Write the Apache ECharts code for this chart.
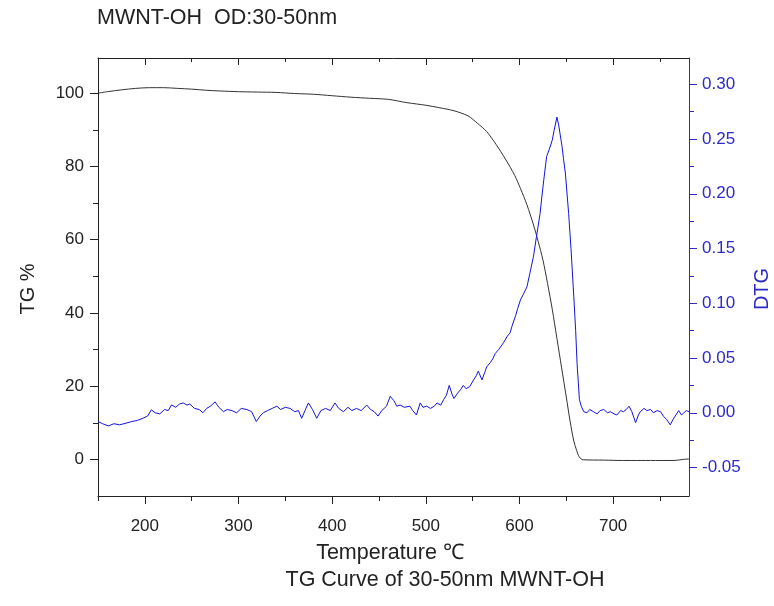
<!DOCTYPE html>
<html>
<head>
<meta charset="utf-8">
<script src="https://cdn.jsdelivr.net/npm/echarts@6/dist/echarts.min.js"></script>
<style>html,body{margin:0;padding:0;background:#fff}#chart{width:774px;height:606px}</style>
</head>
<body>
<div id="chart"></div>
<script>
// ---- data ----
var tgTemp = [150,160,175,190,205,220,235,250,265,280,300,320,340,360,380,400,420,440,460,480,500,515,530,545,555,565,575,585,595,601,608,615,620,625,630,635,640,645,650,654,658,661,664,668,690,710,730,750,765,775,781];
var tgValue = [100.0,100.4,100.9,101.3,101.5,101.5,101.3,101.1,100.8,100.6,100.4,100.3,100.2,99.9,99.7,99.3,98.9,98.6,98.3,97.4,96.7,96.0,95.2,93.8,91.8,89.5,86.0,82.0,77.5,74.0,69.5,64.0,59.5,54.5,48.0,41.0,33.0,25.0,17.0,10.5,5.0,2.5,0.6,-0.1,-0.2,-0.3,-0.3,-0.3,-0.3,0.0,0.1];

var dtgTemp = [150,155,161,167,173,180,186,192,198,203,207,211,216,221,225,228.5,233,237,241,245,248,253,258,262,266,270,275,279,284,288,293,298,303,309,314,319,323,326.5,331,336,341,345,350,355,360,364,367.5,371,374.6,379,383.5,388,393,398,403,407,412,417,421,426,431,437,441,445,449,453,458,462,466,469,472.6,477,483,486,490,494,497,501,505,509,512,516,519,522,525,528,530,534,537,540,543,547,551,554,556,560,563,565,569,572,574,578,583,587,590,592,596,598,601,604,608,611,615,618,622,624,626,629,632,635,637,640,642,645.5,647,649,652.5,655,658,660,661.5,664,666,668.6,672,675,679,683,686,690,694,697,701,704,708,711,714,717,720,722,724,727,729,733,736,740,743,747,750.6,754,757,761,764,767,770,773,775.5,778,781];
var dtgValue = [-0.008,-0.010,-0.012,-0.010,-0.011,-0.0095,-0.008,-0.007,-0.005,-0.003,0.0027,0.000,-0.001,0.003,0.002,0.0072,0.005,0.008,0.009,0.007,0.008,0.004,0.003,0.000,0.004,0.006,0.010,0.005,0.001,0.003,0.002,0.000,0.004,0.003,0.001,-0.008,-0.003,0.000,0.002,0.004,0.006,0.003,0.005,0.004,0.001,0.002,-0.005,0.002,0.009,0.003,-0.005,0.002,0.004,0.002,0.009,0.004,0.001,0.005,0.002,0.004,0.002,0.007,0.003,0.001,-0.003,0.002,0.006,0.015,0.011,0.006,0.007,0.005,0.006,0.002,-0.002,0.009,0.005,0.006,0.004,0.006,0.009,0.007,0.012,0.016,0.025,0.017,0.013,0.018,0.021,0.025,0.022,0.024,0.030,0.034,0.038,0.030,0.037,0.042,0.046,0.050,0.054,0.058,0.064,0.070,0.073,0.079,0.089,0.095,0.103,0.108,0.115,0.127,0.143,0.160,0.182,0.198,0.213,0.234,0.241,0.249,0.258,0.270,0.262,0.243,0.232,0.219,0.182,0.150,0.106,0.075,0.045,0.012,0.006,0.001,0.000,0.003,0.001,-0.001,0.002,0.003,0.000,0.001,-0.001,-0.002,0.002,0.001,0.003,0.006,0.001,0.000,-0.009,-0.002,0.001,0.004,0.002,0.003,0.000,0.002,0.001,-0.0035,-0.006,-0.011,-0.006,-0.002,0.002,-0.002,0.000,0.002,0.001];

var xMajorTicks = [200,300,400,500,600,700];
var xMinorTicks = [150,250,350,450,550,650,750];
var tgMajorTicks = [0,20,40,60,80,100];
var tgMinorTicks = [10,30,50,70,90];
var dtgMajorTicks = [-0.05,0,0.05,0.10,0.15,0.20,0.25,0.30];
var dtgMinorTicks = [-0.025,0.025,0.075,0.125,0.175,0.225,0.275];

var titleText = 'MWNT-OH  OD:30-50nm';
var xName = 'Temperature \u2103';
var captionText = 'TG Curve of 30-50nm MWNT-OH';
var tgName = 'TG %';
var dtgName = 'DTG';

// ---- chart ----
var FONT = 'Liberation Sans, Arial, sans-serif';
var BLACK = '#222222';
var BLUE = '#2b2bc8';
var X_MIN = 150, X_MAX = 781;
var TG_MIN = -10, TG_MAX = 109.6;
var DTG_MIN = -0.076, DTG_MAX = 0.324;

function zip(a, b) { return a.map(function (v, i) { return [v, b[i]]; }); }

function merge(base, extra) {
  var o = {};
  for (var k in base) o[k] = base[k];
  for (var k2 in extra) o[k2] = extra[k2];
  return o;
}

var chart = echarts.init(document.getElementById('chart'), null, {renderer: 'canvas'});
var grid = {left: 98, right: 85, top: 58, bottom: 110, containLabel: false};

var xBase = {type: 'value', min: X_MIN, max: X_MAX, splitLine: {show: false}};
var tgBase = {type: 'value', position: 'left', min: TG_MIN, max: TG_MAX, splitLine: {show: false}};
var dtgBase = {type: 'value', position: 'right', min: DTG_MIN, max: DTG_MAX, splitLine: {show: false}};
var noLine = {show: false, onZero: false};
function axisLine(color) { return {show: true, onZero: false, lineStyle: {color: color, width: 1}}; }

var option = {
  animation: false,
  backgroundColor: '#ffffff',
  grid: grid,
  graphic: [
    {type: 'text', left: 97, top: 7, style: {text: titleText, font: '21.5px ' + FONT, fill: BLACK}},
    {type: 'text', x: 390, y: 553, style: {text: xName, font: '21.5px ' + FONT, fill: BLACK, align: 'center', verticalAlign: 'middle'}},
    {type: 'text', x: 445, y: 580, style: {text: captionText, font: '21.5px ' + FONT, fill: BLACK, align: 'center', verticalAlign: 'middle'}},
    {type: 'text', x: 28, y: 289, rotation: Math.PI / 2, style: {text: tgName, font: '20px ' + FONT, fill: BLACK, align: 'center', verticalAlign: 'middle'}},
    {type: 'text', x: 762, y: 289, rotation: Math.PI / 2, style: {text: dtgName, font: '20px ' + FONT, fill: BLUE, align: 'center', verticalAlign: 'middle'}}
  ],
  xAxis: [
    merge(xBase, {position: 'bottom', axisLine: axisLine(BLACK),
      axisTick: {show: true, inside: false, length: 8, customValues: xMajorTicks, lineStyle: {color: BLACK}},
      axisLabel: {show: true, customValues: xMajorTicks, margin: 22, fontSize: 17, fontFamily: FONT, color: BLACK}}),
    merge(xBase, {position: 'bottom', axisLine: noLine,
      axisTick: {show: true, inside: false, length: 5, customValues: xMinorTicks, lineStyle: {color: BLACK}},
      axisLabel: {show: false}}),
    merge(xBase, {position: 'top', axisLine: axisLine(BLACK),
      axisTick: {show: true, inside: true, length: 7, customValues: xMajorTicks, lineStyle: {color: BLACK}},
      axisLabel: {show: false}}),
    merge(xBase, {position: 'top', axisLine: noLine,
      axisTick: {show: true, inside: true, length: 4, customValues: xMinorTicks, lineStyle: {color: BLACK}},
      axisLabel: {show: false}})
  ],
  yAxis: [
    merge(tgBase, {axisLine: axisLine(BLACK),
      axisTick: {show: true, inside: false, length: 8, customValues: tgMajorTicks, lineStyle: {color: BLACK}},
      axisLabel: {show: true, customValues: tgMajorTicks, margin: 14, fontSize: 17, fontFamily: FONT, color: BLACK}}),
    merge(tgBase, {axisLine: noLine,
      axisTick: {show: true, inside: false, length: 5, customValues: tgMinorTicks, lineStyle: {color: BLACK}},
      axisLabel: {show: false}}),
    merge(dtgBase, {axisLine: axisLine(BLUE),
      axisTick: {show: true, inside: false, length: 8, customValues: dtgMajorTicks, lineStyle: {color: BLUE}},
      axisLabel: {show: true, customValues: dtgMajorTicks, margin: 13, fontSize: 17, fontFamily: FONT, color: BLUE,
        formatter: function (v) { return (Math.abs(v) < 1e-9 ? 0 : v).toFixed(2); }}}),
    merge(dtgBase, {axisLine: noLine,
      axisTick: {show: true, inside: false, length: 5, customValues: dtgMinorTicks, lineStyle: {color: BLUE}},
      axisLabel: {show: false}})
  ],
  series: [
    {name: 'TG', type: 'line', xAxisIndex: 0, yAxisIndex: 0, data: zip(tgTemp, tgValue),
      showSymbol: false, smooth: 0.3, lineStyle: {color: '#333333', width: 1}, itemStyle: {color: '#333333'}},
    {name: 'DTG', type: 'line', xAxisIndex: 0, yAxisIndex: 2, data: zip(dtgTemp, dtgValue),
      showSymbol: false, lineStyle: {color: '#1414dc', width: 1}, itemStyle: {color: '#1414dc'}}
  ]
};
chart.setOption(option);
</script>
</body>
</html>
